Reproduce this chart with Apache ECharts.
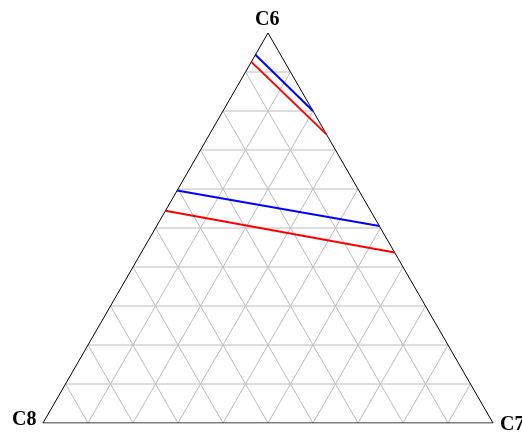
<!DOCTYPE html>
<html>
<head>
<meta charset="utf-8">
<script src="https://cdn.jsdelivr.net/npm/echarts@6/dist/echarts.min.js"></script>
<style>html,body{margin:0;padding:0;background:#fff}#c{width:522px;height:435px}</style>
</head>
<body>
<div id="c"></div>
<script>
// Ternary components: [C6, C7, C8]
var vertexLabels = ['C6', 'C7', 'C8'];
var gridTicks = [0.1, 0.2, 0.3, 0.4, 0.5, 0.6, 0.7, 0.8, 0.9];
var blueUpper = [[0.944, 0.0, 0.056], [0.80, 0.20, 0.0]];
var redUpper  = [[0.926, 0.0, 0.074], [0.74, 0.26, 0.0]];
var blueLower = [[0.596, 0.0, 0.404], [0.505, 0.495, 0.0]];
var redLower  = [[0.544, 0.0, 0.456], [0.437, 0.563, 0.0]];

function toXY(p) { // p = [C6, C7, C8]
  var s = p[0] + p[1] + p[2];
  var a = p[0] / s, b = p[1] / s;
  return [b + a / 2, a];
}
function seg(p, q) { return [toXY(p), toXY(q)]; }

var series = [];
gridTicks.forEach(function (t) {
  [seg([t, 0, 1 - t], [t, 1 - t, 0]),
   seg([0, t, 1 - t], [1 - t, t, 0]),
   seg([0, 1 - t, t], [1 - t, 0, t])].forEach(function (d) {
    series.push({ type: 'line', data: d, symbol: 'none', silent: true,
      lineStyle: { color: '#bcbcbc', width: 1 }, z: 1 });
  });
});
series.push({ type: 'line', data: [toXY([0,0,1]), toXY([0,1,0]), toXY([1,0,0]), toXY([0,0,1])],
  symbol: 'none', lineStyle: { color: '#000', width: 1 }, z: 2 });
[[blueUpper, '#0000ff'], [redUpper, '#ff0000'], [blueLower, '#0000ff'], [redLower, '#ff0000']].forEach(function (s) {
  series.push({ type: 'line', data: s[0].map(toXY), symbol: 'none',
    lineStyle: { color: s[1], width: 2 }, z: 3 });
});

var chart = echarts.init(document.getElementById('c'));
var labelStyle = { fontFamily: 'Liberation Serif', fontWeight: 'bold', fontSize: 20, fill: '#000' };
chart.setOption({
  animation: false,
  grid: { left: 43, right: 29, top: 33, bottom: 12 },
  xAxis: { type: 'value', min: 0, max: 1, show: false },
  yAxis: { type: 'value', min: 0, max: 1, show: false },
  series: series,
  graphic: [
    { type: 'text', left: 255, top: 10, style: Object.assign({ text: vertexLabels[0] }, labelStyle) },
    { type: 'text', left: 500, top: 415, style: Object.assign({ text: vertexLabels[1] }, labelStyle) },
    { type: 'text', left: 12, top: 410, style: Object.assign({ text: vertexLabels[2] }, labelStyle) }
  ]
});
</script>
</body>
</html>
